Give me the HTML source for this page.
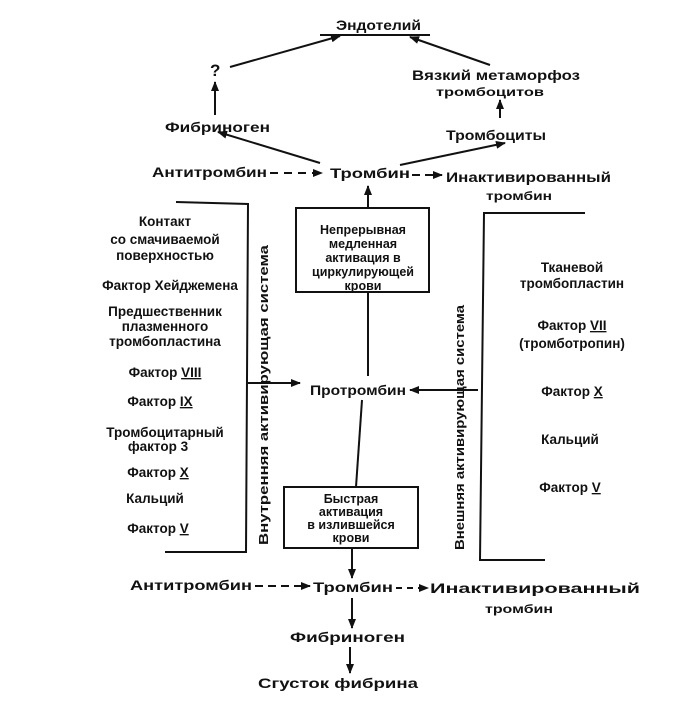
<!DOCTYPE html>
<html><head><meta charset="utf-8"><style>
html,body{margin:0;padding:0;background:#fff;}
svg text{font-family:"Liberation Sans","DejaVu Sans",sans-serif;font-weight:bold;fill:#111;}
</style></head><body>
<svg width="674" height="703" viewBox="0 0 674 703" xmlns="http://www.w3.org/2000/svg">
<defs>
<marker id="a" markerWidth="10" markerHeight="8" refX="9" refY="4" orient="auto" markerUnits="userSpaceOnUse">
<path d="M0,0 L10,4 L0,8 Z" fill="#111"/></marker>
</defs>
<g stroke="#111" stroke-width="2" fill="none">
<line x1="320" y1="35" x2="430" y2="35"/>
<line x1="230" y1="67" x2="340" y2="36" marker-end="url(#a)"/>
<line x1="490" y1="65" x2="410" y2="37" marker-end="url(#a)"/>
<line x1="215" y1="115" x2="215" y2="82" marker-end="url(#a)"/>
<line x1="500" y1="118" x2="500" y2="100" marker-end="url(#a)"/>
<line x1="320" y1="163" x2="218" y2="132" marker-end="url(#a)"/>
<line x1="400" y1="165" x2="505" y2="143" marker-end="url(#a)"/>
<line x1="270" y1="173" x2="322" y2="173" stroke-dasharray="8,6" marker-end="url(#a)"/>
<line x1="412" y1="175" x2="442" y2="175" stroke-dasharray="8,5" marker-end="url(#a)"/>
<line x1="368" y1="208" x2="368" y2="186" marker-end="url(#a)"/>
<rect x="296" y="208" width="133" height="84"/>
<polyline points="176,202 248,204 246,552 165,552"/>
<polyline points="585,213 484,213 480,560 545,560"/>
<line x1="248" y1="383" x2="300" y2="383" marker-end="url(#a)"/>
<line x1="478" y1="390" x2="410" y2="390" marker-end="url(#a)"/>
<line x1="368" y1="292" x2="368" y2="376"/>
<line x1="362" y1="400" x2="356" y2="487"/>
<rect x="284" y="487" width="134" height="61"/>
<line x1="352" y1="548" x2="352" y2="578" marker-end="url(#a)"/>
<line x1="255" y1="586" x2="310" y2="586" stroke-dasharray="8,5" marker-end="url(#a)"/>
<line x1="396" y1="588" x2="428" y2="588" stroke-dasharray="6,5" marker-end="url(#a)"/>
<line x1="352" y1="598" x2="352" y2="628" marker-end="url(#a)"/>
<line x1="350" y1="647" x2="350" y2="673" marker-end="url(#a)"/>
</g>
<g font-size="14">
<text x="336" y="30" textLength="85" lengthAdjust="spacingAndGlyphs">Эндотелий</text>
<text x="210" y="76" font-size="17">?</text>
<text x="412" y="80" textLength="168" lengthAdjust="spacingAndGlyphs">Вязкий метаморфоз</text>
<text x="436" y="96" font-size="12" textLength="108" lengthAdjust="spacingAndGlyphs">тромбоцитов</text>
<text x="165" y="132" textLength="105" lengthAdjust="spacingAndGlyphs">Фибриноген</text>
<text x="446" y="140" textLength="100" lengthAdjust="spacingAndGlyphs">Тромбоциты</text>
<text x="152" y="177" textLength="115" lengthAdjust="spacingAndGlyphs">Антитромбин</text>
<text x="330" y="178" textLength="80" lengthAdjust="spacingAndGlyphs">Тромбин</text>
<text x="446" y="182" textLength="165" lengthAdjust="spacingAndGlyphs">Инактивированный</text>
<text x="486" y="200" font-size="12" textLength="66" lengthAdjust="spacingAndGlyphs">тромбин</text>
</g>
<g font-size="12.5" text-anchor="middle">
<text x="363" y="234">Непрерывная</text>
<text x="363" y="248">медленная</text>
<text x="363" y="262">активация в</text>
<text x="363" y="276">циркулирующей</text>
<text x="363" y="290">крови</text>
<text x="351" y="503">Быстрая</text>
<text x="351" y="516">активация</text>
<text x="351" y="529">в излившейся</text>
<text x="351" y="542">крови</text>
</g>
<g font-size="13.5" text-anchor="middle">
<text x="165" y="226">Контакт</text>
<text x="165" y="244">со смачиваемой</text>
<text x="165" y="260">поверхностью</text>
<text x="170" y="290">Фактор Хейджемена</text>
<text x="165" y="316">Предшественник</text>
<text x="165" y="331">плазменного</text>
<text x="165" y="346">тромбопластина</text>
<text x="165" y="377">Фактор <tspan text-decoration="underline">VIII</tspan></text>
<text x="160" y="406">Фактор <tspan text-decoration="underline">IX</tspan></text>
<text x="165" y="437">Тромбоцитарный</text>
<text x="158" y="451">фактор 3</text>
<text x="158" y="477">Фактор <tspan text-decoration="underline">X</tspan></text>
<text x="155" y="503">Кальций</text>
<text x="158" y="533">Фактор <tspan text-decoration="underline">V</tspan></text>
<text x="572" y="272">Тканевой</text>
<text x="572" y="288">тромбопластин</text>
<text x="572" y="330">Фактор <tspan text-decoration="underline">VII</tspan></text>
<text x="572" y="348">(тромботропин)</text>
<text x="572" y="396">Фактор <tspan text-decoration="underline">X</tspan></text>
<text x="570" y="444">Кальций</text>
<text x="570" y="492">Фактор <tspan text-decoration="underline">V</tspan></text>
</g>
<text x="0" y="0" font-size="12.5" transform="translate(268,545) rotate(-90)" textLength="300" lengthAdjust="spacingAndGlyphs">Внутренняя активирующая система</text>
<text x="0" y="0" font-size="12.5" transform="translate(464,550) rotate(-90)" textLength="245" lengthAdjust="spacingAndGlyphs">Внешняя активирующая система</text>
<g font-size="14">
<text x="310" y="395" textLength="96" lengthAdjust="spacingAndGlyphs">Протромбин</text>
<text x="130" y="590" textLength="122" lengthAdjust="spacingAndGlyphs">Антитромбин</text>
<text x="313" y="592" textLength="80" lengthAdjust="spacingAndGlyphs">Тромбин</text>
<text x="430" y="593" textLength="210" lengthAdjust="spacingAndGlyphs">Инактивированный</text>
<text x="485" y="613" font-size="12" textLength="68" lengthAdjust="spacingAndGlyphs">тромбин</text>
<text x="290" y="642" textLength="115" lengthAdjust="spacingAndGlyphs">Фибриноген</text>
<text x="258" y="688" textLength="160" lengthAdjust="spacingAndGlyphs">Сгусток фибрина</text>
</g>
</svg>
</body></html>
